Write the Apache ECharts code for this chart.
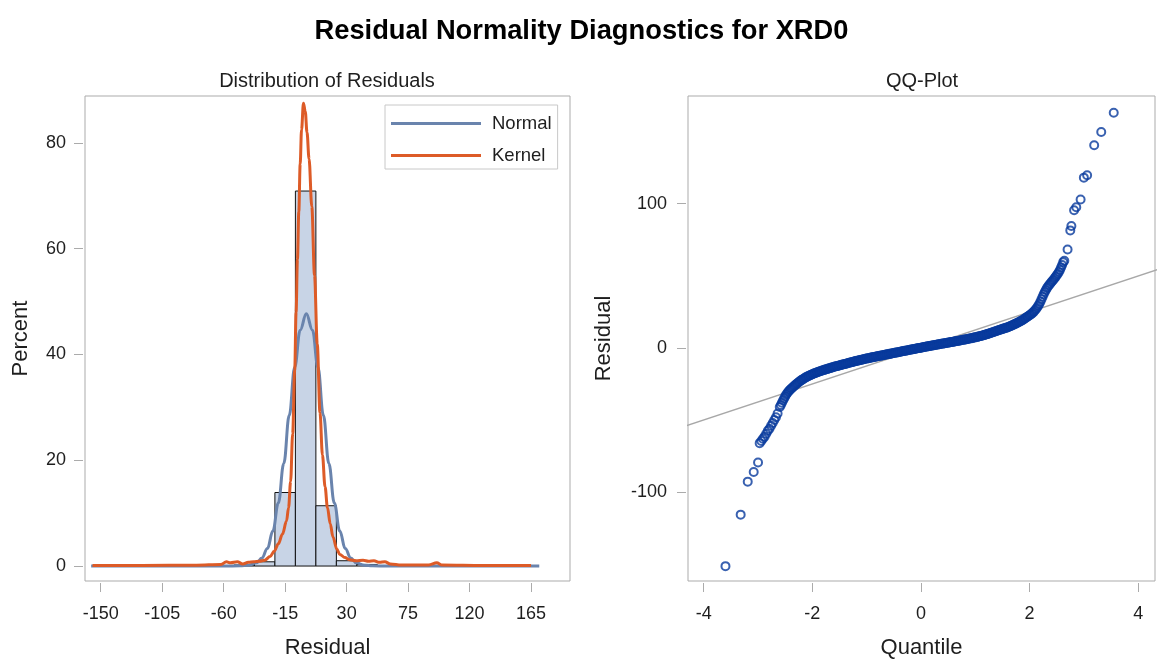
<!DOCTYPE html>
<html>
<head>
<meta charset="utf-8">
<script src="https://cdn.jsdelivr.net/npm/echarts@6/dist/echarts.min.js"></script>
<style>
  html, body { margin: 0; padding: 0; background: #ffffff; }
  #chart { width: 1163px; height: 664px; }
</style>
</head>
<body>
<div id="chart"></div>
<script>
// ---- Histogram of residuals (percent per 15-unit bin) ----
const binCenters  = [-45, -30, -15, 0, 15, 30, 45];
const binPercents = [0.2, 0.8, 13.9, 70.9, 11.4, 1.0, 0.3];
const binWidth = 15;

// ---- Fitted normal density (percent scale) ----
const normalX   = [-157, -60, -48, -42, -36, -32, -28, -24, -20, -16, -12, -8, -4, 0.5, 5, 9, 13, 17, 21, 25, 29, 33, 37, 43, 49, 60, 171];
const normalPct = [0, 0, 0.05, 0.15, 0.6, 1.5, 3.3, 6.6, 11.9, 19.4, 28.5, 37.6, 44.6, 47.7, 44.6, 37.6, 28.5, 19.4, 11.9, 6.6, 3.3, 1.5, 0.6, 0.15, 0.05, 0, 0];

// ---- Kernel density estimate (percent scale) ----
const kernelX   = [-156, -120, -80, -62, -58, -55, -50, -46, -42, -38, -34, -30, -26, -23, -20, -17, -14, -12.5, -11, -9.5, -8, -7, -6, -5, -4, -3, -1.6, -0.3, 1, 2.5, 4.5, 6.5, 8.5, 10.5, 12.3, 14.2, 16, 18, 20, 22.8, 25, 28.8, 32, 37, 42, 46, 50, 54, 58, 62, 70, 90, 96, 100, 130, 165];
const kernelPct = [0.1, 0.1, 0.15, 0.3, 0.8, 0.6, 0.8, 0.4, 0.7, 0.8, 0.9, 1.1, 1.8, 2.8, 4.2, 6, 8.5, 11, 16, 25, 37, 48, 58, 67, 76, 82.5, 87.5, 86, 82, 77, 68, 55, 42, 29, 21, 15, 11, 8, 5.5, 3.2, 2.2, 1.6, 1.2, 1.0, 1.1, 0.9, 1.0, 0.7, 0.8, 0.4, 0.2, 0.2, 0.6, 0.2, 0.1, 0.1];

// ---- QQ plot: normal quantile vs residual ----
const qqQuantile = [
  -3.60, -3.32, -3.19, -3.08, -3.00,
  -2.97, -2.94, -2.91, -2.88, -2.85, -2.82, -2.79, -2.76, -2.73, -2.70, -2.67, -2.64,
  -2.60, -2.56, -2.52, -2.48, -2.44, -2.40, -2.36, -2.32, -2.28, -2.24, -2.20, -2.16, -2.12, -2.08, -2.04,
  -2.00, -1.96, -1.92, -1.88, -1.84, -1.80, -1.76, -1.72, -1.68, -1.64, -1.60, -1.56, -1.52, -1.48, -1.44,
  -1.40, -1.36, -1.32, -1.28, -1.24, -1.20, -1.16, -1.12, -1.08, -1.04, -1.00, -0.96, -0.92, -0.88, -0.84,
  -0.80, -0.76, -0.72, -0.68, -0.64, -0.60, -0.56, -0.52, -0.48, -0.44, -0.40, -0.36, -0.32, -0.28, -0.24,
  -0.20, -0.16, -0.12, -0.08, -0.04, 0.00, 0.04, 0.08, 0.12, 0.16, 0.20, 0.24, 0.28, 0.32, 0.36,
  0.40, 0.44, 0.48, 0.52, 0.56, 0.60, 0.64, 0.68, 0.72, 0.76, 0.80, 0.84, 0.88, 0.92, 0.96,
  1.00, 1.04, 1.08, 1.12, 1.16, 1.20, 1.24, 1.28, 1.32, 1.36, 1.40, 1.44, 1.48, 1.52, 1.56,
  1.60, 1.64, 1.68, 1.72, 1.76, 1.80, 1.84, 1.88, 1.92, 1.96, 2.00, 2.04, 2.08, 2.12, 2.16,
  2.20, 2.24, 2.28, 2.32, 2.36, 2.40, 2.44, 2.48, 2.52, 2.56, 2.60, 2.62, 2.64,
  2.70, 2.75, 2.77, 2.82, 2.86, 2.94, 3.00, 3.06, 3.19, 3.32, 3.55
];
const qqResidual = [
  -151.3, -115.6, -92.7, -86.0, -79.4,
  -66.0, -64.5, -63.0, -61.5, -59.5, -57.5, -56.0, -54.0, -52.0, -50.0, -48.0, -45.5,
  -41.0, -38.0, -35.0, -32.3, -30.2, -28.6, -27.2, -25.9, -24.6, -23.4, -22.3, -21.3, -20.4, -19.6, -18.9,
  -18.2, -17.6, -17.0, -16.5, -16.0, -15.5, -15.0, -14.5, -14.0, -13.6, -13.1, -12.7, -12.3, -11.9, -11.5,
  -11.1, -10.7, -10.3, -9.9, -9.5, -9.1, -8.8, -8.4, -8.1, -7.7, -7.4, -7.1, -6.7, -6.4, -6.1,
  -5.8, -5.5, -5.2, -4.9, -4.6, -4.3, -4.0, -3.7, -3.4, -3.1, -2.8, -2.5, -2.2, -1.9, -1.6,
  -1.3, -1.0, -0.7, -0.4, -0.1, 0.2, 0.5, 0.8, 1.1, 1.4, 1.6, 1.9, 2.2, 2.5, 2.7,
  3.0, 3.3, 3.5, 3.8, 4.1, 4.3, 4.6, 4.9, 5.2, 5.5, 5.8, 6.1, 6.4, 6.7, 7.0,
  7.4, 7.7, 8.1, 8.5, 8.9, 9.4, 9.9, 10.4, 10.9, 11.4, 11.9, 12.4, 12.9, 13.4, 13.9,
  14.4, 15.0, 15.7, 16.4, 17.1, 17.9, 18.7, 19.6, 20.6, 21.6, 22.7, 23.8, 25.2, 27.0, 29.2,
  32.0, 35.5, 38.8, 41.5, 43.6, 45.5, 47.3, 49.3, 51.5, 54.0, 57.5, 59.5, 60.5,
  68.3, 81.5, 84.5, 95.5, 97.5, 102.9, 118.1, 119.7, 140.5, 149.7, 163.1
];
// Further observations lying inside the dense central band
const qqQuantileBand = [
  -2.58, -2.54, -2.50, -2.46, -2.42, -2.38, -2.34, -2.30, -2.26, -2.22, -2.18, -2.14, -2.10, -2.06, -2.02,
  -1.98, -1.94, -1.90, -1.86, -1.82, -1.78, -1.74, -1.70, -1.66, -1.62, -1.58, -1.54, -1.50, -1.46, -1.42,
  -1.38, -1.34, -1.30, -1.26, -1.22, -1.18, -1.14, -1.10, -1.06, -1.02, -0.98, -0.94, -0.90, -0.86, -0.82,
  -0.78, -0.74, -0.70, -0.66, -0.62, -0.58, -0.54, -0.50, -0.46, -0.42, -0.38, -0.34, -0.30, -0.26, -0.22,
  -0.18, -0.14, -0.10, -0.06, -0.02, 0.02, 0.06, 0.10, 0.14, 0.18, 0.22, 0.26, 0.30, 0.34, 0.38,
  0.42, 0.46, 0.50, 0.54, 0.58, 0.62, 0.66, 0.70, 0.74, 0.78, 0.82, 0.86, 0.90, 0.94, 0.98,
  1.02, 1.06, 1.10, 1.14, 1.18, 1.22, 1.26, 1.30, 1.34, 1.38, 1.42, 1.46, 1.50, 1.54, 1.58,
  1.62, 1.66, 1.70, 1.74, 1.78, 1.82, 1.86, 1.90, 1.94, 1.98, 2.02, 2.06, 2.10, 2.14, 2.18,
  2.22, 2.26, 2.30, 2.34, 2.38, 2.42, 2.46, 2.50, 2.54, 2.58
];
const qqResidualBand = [
  -39.5, -36.5, -33.6, -31.2, -29.4, -27.9, -26.5, -25.2, -24.0, -22.8, -21.8, -20.8, -20.0, -19.2, -18.5,
  -17.9, -17.3, -16.7, -16.2, -15.7, -15.2, -14.7, -14.2, -13.8, -13.3, -12.9, -12.5, -12.1, -11.7, -11.3,
  -10.9, -10.5, -10.1, -9.7, -9.3, -8.9, -8.6, -8.2, -7.9, -7.5, -7.2, -6.9, -6.5, -6.2, -5.9,
  -5.6, -5.3, -5.0, -4.7, -4.4, -4.1, -3.8, -3.5, -3.2, -2.9, -2.6, -2.3, -2.0, -1.7, -1.4,
  -1.1, -0.8, -0.5, -0.2, 0.0, 0.3, 0.6, 0.9, 1.2, 1.5, 1.8, 2.0, 2.3, 2.6, 2.9,
  3.1, 3.4, 3.7, 3.9, 4.2, 4.5, 4.8, 5.0, 5.3, 5.6, 5.9, 6.2, 6.5, 6.8, 7.2,
  7.5, 7.9, 8.3, 8.7, 9.1, 9.6, 10.1, 10.6, 11.1, 11.6, 12.1, 12.6, 13.1, 13.6, 14.1,
  14.7, 15.3, 16.0, 16.7, 17.5, 18.3, 19.1, 20.1, 21.1, 22.1, 23.2, 24.5, 26.1, 28.1, 30.5,
  33.8, 37.2, 40.2, 42.6, 44.5, 46.4, 48.3, 50.4, 52.7, 55.8
];

// Reference line of the normal fit (residual = sigma * quantile)
const refQuantile = [-4.4, 4.4];
const refResidual = [-54.9, 54.9];

// ---- Tick labels ----
const residualTicks = [-150, -105, -60, -15, 30, 75, 120, 165];
const percentTicks  = [0, 20, 40, 60, 80];
const quantileTicks = [-4, -2, 0, 2, 4];
const qqResidTicks  = [-100, 0, 100];

const FONT = "'Liberation Sans', Arial, sans-serif";
const TEXT = '#1e1e1e';
const FRAME = '#ababab';

const pairs = (xs, ys) => xs.map((x, i) => [x, ys[i]]);

function axisBase(ticks, name, nameGap, labelMargin) {
  return {
    type: 'value',
    offset: 2,
    axisLine: { show: false, onZero: false },
    axisTick: { show: true, inside: false, length: 9, customValues: ticks, lineStyle: { color: FRAME, width: 1 } },
    axisLabel: { customValues: ticks, fontSize: 18, color: TEXT, fontFamily: FONT, margin: labelMargin },
    splitLine: { show: false },
    name: name,
    nameLocation: 'middle',
    nameGap: nameGap,
    nameTextStyle: { fontSize: 22, color: TEXT, fontFamily: FONT }
  };
}

const chart = echarts.init(document.getElementById('chart'), null, { renderer: 'canvas' });

chart.setOption({
  backgroundColor: '#ffffff',
  animation: false,
  title: [
    { text: 'Residual Normality Diagnostics for XRD0', left: 'center', top: 13,
      textStyle: { fontSize: 27.3, fontWeight: 'bold', color: '#000', fontFamily: FONT } },
    { text: 'Distribution of Residuals', left: 322, top: 66, textAlign: 'center',
      textStyle: { fontSize: 20, fontWeight: 'normal', color: TEXT, fontFamily: FONT } },
    { text: 'QQ-Plot', left: 917, top: 66, textAlign: 'center',
      textStyle: { fontSize: 20, fontWeight: 'normal', color: TEXT, fontFamily: FONT } }
  ],
  legend: {
    data: ['Normal', 'Kernel'],
    orient: 'vertical',
    left: 385,
    top: 105,
    icon: 'rect',
    itemWidth: 90,
    itemHeight: 3,
    itemGap: 13,
    padding: [9, 6, 4, 6],
    borderColor: '#c8c8c8',
    borderWidth: 1,
    backgroundColor: '#ffffff',
    textStyle: { fontSize: 18.5, color: TEXT, fontFamily: FONT, padding: [0, 0, 0, 6] }
  },
  grid: [
    { left: 85, top: 96, width: 485, height: 486, show: true, borderColor: FRAME, borderWidth: 1, backgroundColor: 'transparent', containLabel: false },
    { left: 688, top: 96, width: 467, height: 486, show: true, borderColor: FRAME, borderWidth: 1, backgroundColor: 'transparent', containLabel: false }
  ],
  xAxis: [
    Object.assign(axisBase(residualTicks, 'Residual', 54, 22), { gridIndex: 0, min: -161.5, max: 193.5 }),
    Object.assign(axisBase(quantileTicks, 'Quantile', 54, 22), { gridIndex: 1, min: -4.29, max: 4.31 })
  ],
  yAxis: [
    Object.assign(axisBase(percentTicks, 'Percent', 51, 17), { gridIndex: 0, min: -2.83, max: 88.87 }),
    Object.assign(axisBase(qqResidTicks, 'Residual', 71, 19), { gridIndex: 1, min: -161.6, max: 174.7 })
  ],
  series: [
    {
      name: 'Histogram',
      type: 'custom',
      xAxisIndex: 0, yAxisIndex: 0,
      z: 1,
      data: pairs(binCenters, binPercents),
      renderItem: function (params, api) {
        const c = api.value(0), h = api.value(1);
        const p0 = api.coord([c - binWidth / 2, h]);
        const p1 = api.coord([c + binWidth / 2, 0]);
        return {
          type: 'rect',
          shape: { x: p0[0], y: p0[1], width: p1[0] - p0[0], height: p1[1] - p0[1] },
          style: { fill: '#c8d4e6', stroke: '#111111', lineWidth: 1 }
        };
      }
    },
    {
      name: 'Normal',
      type: 'line',
      xAxisIndex: 0, yAxisIndex: 0,
      z: 2,
      color: '#6a84ad',
      data: pairs(normalX, normalPct),
      symbol: 'none',
      smooth: 0.4,
      smoothMonotone: 'x',
      lineStyle: { color: '#6a84ad', width: 3 }
    },
    {
      name: 'Kernel',
      type: 'line',
      xAxisIndex: 0, yAxisIndex: 0,
      z: 3,
      color: '#dd5b27',
      data: pairs(kernelX, kernelPct),
      symbol: 'none',
      smooth: 0.35,
      smoothMonotone: 'x',
      lineStyle: { color: '#dd5b27', width: 3 }
    },
    {
      name: 'Reference',
      type: 'line',
      xAxisIndex: 1, yAxisIndex: 1,
      z: 1,
      data: pairs(refQuantile, refResidual),
      symbol: 'none',
      silent: true,
      lineStyle: { color: '#a8a8a8', width: 1.3 }
    },
    {
      name: 'Residuals',
      type: 'scatter',
      xAxisIndex: 1, yAxisIndex: 1,
      z: 3,
      data: pairs(qqQuantile, qqResidual).concat(pairs(qqQuantileBand, qqResidualBand)),
      symbol: 'circle',
      symbolSize: 8,
      itemStyle: { color: 'rgba(0,0,0,0)', borderColor: '#083a9c', borderWidth: 2 }
    }
  ]
});
</script>
</body>
</html>
